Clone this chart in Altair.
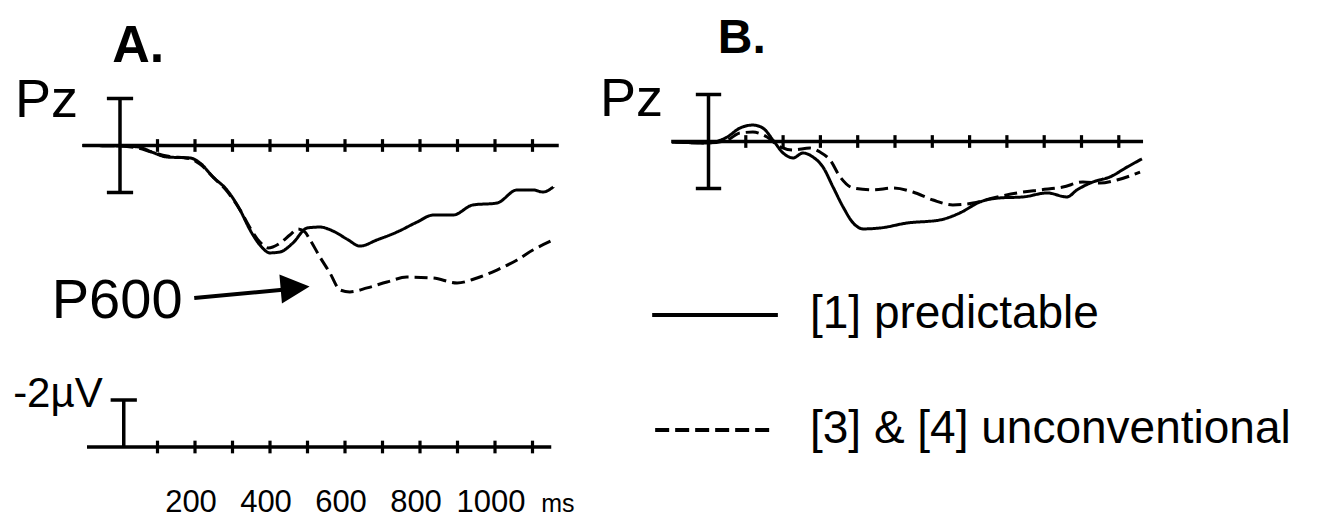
import altair as alt
import pandas as pd

# ---- ERP waveforms at Pz (time in ms, amplitude in µV; negative plotted up) ----
# Panel A
a_time_pred = [-100, 0, 48, 85, 125, 187, 213, 248, 285, 320, 347, 373, 400, 427, 461, 499,
               533, 568, 605, 640, 685, 739, 792, 835, 888, 941, 1005, 1059, 1101, 1128, 1155]
a_uv_pred = [0.0, 0.02, 0.06, 0.28, 0.49, 0.53, 0.74, 1.34, 1.89, 2.74, 3.60, 4.23, 4.57, 4.53,
             4.15, 3.51, 3.47, 3.64, 3.98, 4.28, 4.02, 3.68, 3.26, 2.96, 2.96, 2.53, 2.45,
             1.89, 1.89, 1.98, 1.77]
a_time_unc = [-100, 0, 48, 85, 125, 187, 213, 248, 285, 320, 347, 373, 395, 427, 453, 475, 493,
              507, 533, 560, 587, 613, 659, 712, 765, 835, 899, 952, 1005, 1059, 1101, 1155]
a_uv_unc = [0.0, 0.02, 0.11, 0.28, 0.45, 0.57, 0.79, 1.34, 1.94, 2.74, 3.51, 4.11, 4.36, 4.15,
            3.81, 3.55, 3.68, 4.02, 4.74, 5.43, 6.15, 6.23, 6.06, 5.81, 5.60, 5.64, 5.85,
            5.64, 5.30, 4.87, 4.45, 4.02]

# Panel B
b_time_pred = [-98, -4, 50, 84, 119, 146, 173, 200, 227, 253, 280, 307, 334, 361, 388, 415,
               460, 532, 620, 674, 728, 781, 843, 908, 961, 988, 1031, 1076, 1122, 1162]
b_uv_pred = [0.02, 0.06, -0.19, -0.57, -0.70, -0.57, -0.06, 0.49, 0.70, 0.49, 0.66, 1.09,
             1.94, 2.79, 3.47, 3.72, 3.68, 3.47, 3.34, 3.04, 2.57, 2.40, 2.36, 2.19, 2.36,
             2.06, 1.72, 1.51, 1.09, 0.74]
b_time_unc = [-98, -4, 50, 84, 119, 157, 192, 227, 272, 299, 326, 353, 388, 441, 495, 548,
              602, 655, 709, 763, 827, 889, 950, 1004, 1049, 1095, 1157]
b_uv_unc = [0.02, 0.06, -0.06, -0.36, -0.40, -0.19, 0.23, 0.36, 0.28, 0.45, 0.79, 1.51, 1.98,
            2.06, 1.98, 2.15, 2.49, 2.70, 2.62, 2.40, 2.19, 2.06, 1.94, 1.72, 1.77, 1.64, 1.30]

conditions = ["[1] predictable", "[3] & [4] unconventional"]
tick_times = [100, 200, 300, 400, 500, 600, 700, 800, 900, 1000, 1100]
label_times = [200, 400, 600, 800, 1000]
label_texts = ["200", "400", "600", "800", "1000"]

FONT = "Liberation Sans, Arial, sans-serif"
INK = "#000000"


def curves(times_pred, uv_pred, times_unc, uv_unc):
    rows = [{"t": t, "v": v, "cond": conditions[0]} for t, v in zip(times_pred, uv_pred)]
    rows += [{"t": t, "v": v, "cond": conditions[1]} for t, v in zip(times_unc, uv_unc)]
    return pd.DataFrame(rows)


one = alt.Data(values=[{}])


def hline(xs, ys, x0, x1, y, width=3.5, dash=None):
    kw = {"strokeWidth": width, "color": INK}
    if dash:
        kw["strokeDash"] = dash
    return alt.Chart(one).mark_rule(**kw).encode(
        x=alt.X(datum=x0, scale=xs, axis=None), x2=alt.X2(datum=x1),
        y=alt.Y(datum=y, scale=ys, axis=None))


def vline(xs, ys, x, y0, y1, width=3.5):
    return alt.Chart(one).mark_rule(strokeWidth=width, color=INK).encode(
        x=alt.X(datum=x, scale=xs, axis=None),
        y=alt.Y(datum=y0, scale=ys, axis=None), y2=alt.Y2(datum=y1))


def seg(xs, ys, x0, y0, x1, y1, width=4):
    return alt.Chart(one).mark_rule(strokeWidth=width, color=INK).encode(
        x=alt.X(datum=x0, scale=xs, axis=None), x2=alt.X2(datum=x1),
        y=alt.Y(datum=y0, scale=ys, axis=None), y2=alt.Y2(datum=y1))


def label(xs, ys, x, y, text, size, weight="normal"):
    return alt.Chart(one).mark_text(
        text=text, font=FONT, fontSize=size, fontWeight=weight, color=INK,
        align="left", baseline="alphabetic").encode(
        x=alt.X(datum=x, scale=xs, axis=None), y=alt.Y(datum=y, scale=ys, axis=None))


def ticks(xs, ys, y, half=0.27):
    df = pd.DataFrame({"t": tick_times})
    return alt.Chart(df).mark_rule(strokeWidth=3.2, color=INK).encode(
        x=alt.X("t:Q", scale=xs, axis=None),
        y=alt.Y(datum=y - half, scale=ys, axis=None), y2=alt.Y2(datum=y + half))


def calib_bar(xs, ys, x, lo, hi, cap, caps=("lo", "hi")):
    parts = [vline(xs, ys, x, lo, hi)]
    if "lo" in caps:
        parts.append(hline(xs, ys, x - cap, x + cap, lo))
    if "hi" in caps:
        parts.append(hline(xs, ys, x - cap, x + cap, hi))
    return parts


def waves(df, xs, ys):
    return alt.Chart(df).mark_line(strokeWidth=3, color=INK, interpolate="monotone").encode(
        x=alt.X("t:Q", scale=xs, axis=None),
        y=alt.Y("v:Q", scale=ys, axis=None),
        detail="cond:N",
        strokeDash=alt.StrokeDash("cond:N", legend=None,
                                  scale=alt.Scale(domain=conditions, range=[[1, 0], [13, 6]])))


# ---- Panel A ----
xa = alt.Scale(domain=[-320, 1253.33], nice=False, zero=False)
ya = alt.Scale(domain=[-6.191, 15.936], nice=False, zero=False, reverse=True)
calib_y = 12.83  # baseline of the amplitude / time calibration

tick_df = pd.DataFrame({"t": label_times, "txt": label_texts})
tick_labels = alt.Chart(tick_df).mark_text(
    font=FONT, fontSize=31, color=INK, align="center", baseline="alphabetic", dx=-4).encode(
    x=alt.X("t:Q", scale=xa, axis=None),
    y=alt.Y(datum=15.6, scale=ya, axis=None),
    text="txt:N")

panel_a = alt.layer(
    waves(curves(a_time_pred, a_uv_pred, a_time_unc, a_uv_unc), xa, ya),
    hline(xa, ya, -100, 1170, 0),
    ticks(xa, ya, 0),
    *calib_bar(xa, ya, 0, -2, 2, 35),
    label(xa, ya, -21, -3.55, "A.", 52, "bold"),
    label(xa, ya, -280, -1.21, "Pz", 54),
    label(xa, ya, -182, 7.35, "P600", 56),
    seg(xa, ya, 198, 6.49, 455, 6.11),
    alt.Chart(one).mark_point(shape="M-1,-1L1,0L-1,1Z", size=841, filled=True, opacity=1,
                              color=INK, angle=355).encode(
        x=alt.X(datum=467, scale=xa, axis=None), y=alt.Y(datum=6.05, scale=ya, axis=None)),
    # calibration: -2 µV bar and time axis
    hline(xa, ya, -88, 1150, calib_y),
    ticks(xa, ya, calib_y),
    *calib_bar(xa, ya, 10, calib_y - 2, calib_y, 35, caps=("lo",)),
    label(xa, ya, -285, 11.13, "-2µV", 42),
    tick_labels,
    label(xa, ya, 1123, 15.6, "ms", 25),
).properties(width=590, height=520)

# ---- Panel B ----
xb = alt.Scale(domain=[-317.7, 1642.1], nice=False, zero=False)
yb = alt.Scale(domain=[-6.021, 16.106], nice=False, zero=False, reverse=True)

panel_b = alt.layer(
    waves(curves(b_time_pred, b_uv_pred, b_time_unc, b_uv_unc), xb, yb),
    hline(xb, yb, -100, 1165, 0),
    ticks(xb, yb, 0),
    *calib_bar(xb, yb, 0, -2, 2, 34),
    label(xb, yb, 25, -3.77, "B.", 48, "bold"),
    label(xb, yb, -291, -1.085, "Pz", 54),
    # key
    hline(xb, yb, -151, 186, 7.38, width=4),
    hline(xb, yb, -143, 178, 12.28, width=4, dash=[14, 6]),
    label(xb, yb, 272, 7.94, conditions[0], 46),
    label(xb, yb, 272, 12.83, conditions[1], 46),
).properties(width=731, height=520)

chart = alt.hconcat(panel_a, panel_b, spacing=0).properties(
    padding=0, background="white"
).configure_view(stroke=None)

chart.save("out.html", embed_options={"renderer": "svg", "actions": False})
